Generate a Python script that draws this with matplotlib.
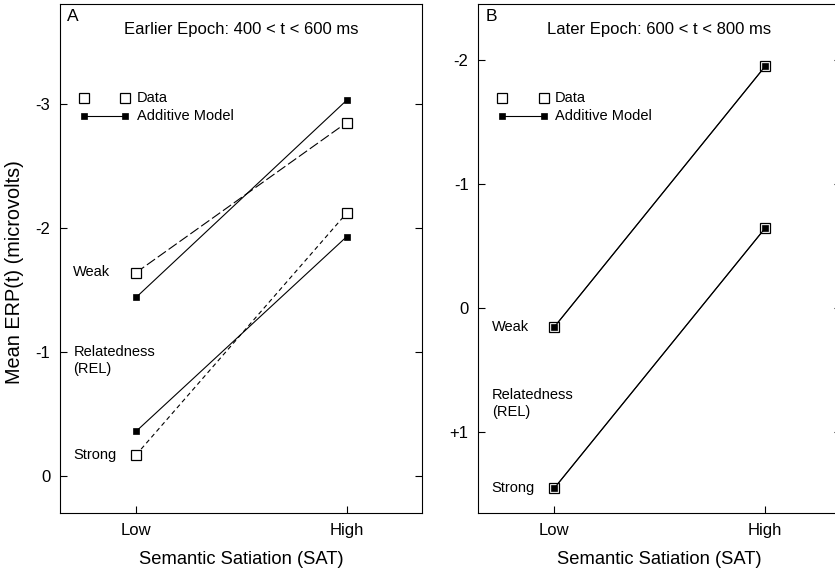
import numpy as np
import matplotlib
matplotlib.use("Agg")
import matplotlib.pyplot as plt

plt.rcParams["font.family"] = ["Liberation Sans", "DejaVu Sans"]
plt.rcParams["axes.linewidth"] = 0.8

# ---------------- data ----------------
sat_levels = ["Low", "High"]
sat_x = [0, 1]

# panel A, earlier epoch (400-600 ms)
a_weak_data = [-1.64, -2.85]
a_weak_model = [-1.44, -3.03]
a_strong_data = [-0.17, -2.12]
a_strong_model = [-0.36, -1.93]
a_yticks = [-3, -2, -1, 0]
a_yticklabels = ["-3", "-2", "-1", "0"]

# panel B, later epoch (600-800 ms)
b_weak_data = [0.15, -1.95]
b_weak_model = [0.15, -1.95]
b_strong_data = [1.45, -0.645]
b_strong_model = [1.45, -0.645]
b_yticks = [-2, -1, 0, 1]
b_yticklabels = ["-2", "-1", "0", "+1"]

fig = plt.figure(figsize=(8.35, 5.70), dpi=100)
axA = fig.add_axes([60/835, 1-513/570, 362.3/835, 509/570])
axB = fig.add_axes([478.3/835, 1-513.3/570, 362.3/835, 509.3/570])

open_sq = dict(marker="s", markersize=7.4, markerfacecolor="white",
               markeredgecolor="black", markeredgewidth=0.9)
fill_sq = dict(marker="s", markersize=4.0, markerfacecolor="black",
               markeredgecolor="black", markeredgewidth=0.5)


def model_line(ax, y):
    ax.plot(sat_x, y, color="black", lw=0.8, zorder=3, **fill_sq)


def data_line(ax, y, dashes):
    if dashes is None:
        ax.plot(sat_x, y, color="black", lw=0.8, zorder=2, **open_sq)
    else:
        ax.plot(sat_x, y, color="black", lw=0.8, dashes=dashes, zorder=2, **open_sq)


# panel A
data_line(axA, a_weak_data, (9, 3))
data_line(axA, a_strong_data, (4, 3))
model_line(axA, a_weak_model)
model_line(axA, a_strong_model)

# panel B (data and model coincide)
data_line(axB, b_weak_data, None)
data_line(axB, b_strong_data, None)
model_line(axB, b_weak_model)
model_line(axB, b_strong_model)

axA.set_ylim(0.298, -3.806)
axB.set_ylim(1.653, -2.454)

for ax, yt, ytl in [(axA, a_yticks, a_yticklabels), (axB, b_yticks, b_yticklabels)]:
    ax.set_xlim(-0.361, 1.359)
    ax.set_xticks(sat_x)
    ax.set_xticklabels(sat_levels)
    ax.set_yticks(yt)
    ax.set_yticklabels(ytl)
    ax.tick_params(axis="y", direction="in", length=5, width=0.8, right=True,
                   labelsize=12, pad=7)
    ax.tick_params(axis="x", direction="in", length=5, width=0.8, top=False,
                   labelsize=12, pad=7)
    ax.set_xlabel("Semantic Satiation (SAT)", fontsize=13.2, labelpad=9.5)

    # legend drawn by hand
    tr = ax.transAxes
    ax.plot([0.066, 0.180], [0.815, 0.815], linestyle="none", transform=tr,
            clip_on=False, **open_sq)
    ax.plot([0.066, 0.180], [0.780, 0.780], color="black", lw=0.8,
            transform=tr, clip_on=False, **fill_sq)
    ax.text(0.212, 0.815, "Data", transform=tr, fontsize=10.5, va="center")
    ax.text(0.212, 0.780, "Additive Model", transform=tr, fontsize=10.5, va="center")

axA.set_ylabel("Mean ERP(t) (microvolts)", fontsize=14.3)
axA.yaxis.set_label_coords(-0.100, 0.474)

tA = axA.transAxes
axA.text(0.019, 0.99, "A", transform=tA, fontsize=12.5, va="top")
axA.text(0.5, 0.949, "Earlier Epoch: 400 < t < 600 ms", transform=tA,
         fontsize=12, ha="center", va="center")
axA.text(0.037, 0.473, "Weak", transform=tA, fontsize=10.5, va="center")
axA.text(0.037, 0.299, "Relatedness\n(REL)", transform=tA, fontsize=10.5,
         va="center", linespacing=1.3)
axA.text(0.037, 0.114, "Strong", transform=tA, fontsize=10.5, va="center")

tB = axB.transAxes
axB.text(0.02, 0.99, "B", transform=tB, fontsize=12.5, va="top")
axB.text(0.5, 0.949, "Later Epoch: 600 < t < 800 ms", transform=tB,
         fontsize=12, ha="center", va="center")
axB.text(0.037, 0.366, "Weak", transform=tB, fontsize=10.5, va="center")
axB.text(0.037, 0.215, "Relatedness\n(REL)", transform=tB, fontsize=10.5,
         va="center", linespacing=1.3)
axB.text(0.037, 0.049, "Strong", transform=tB, fontsize=10.5, va="center")

fig.savefig("out.png", dpi=100)
